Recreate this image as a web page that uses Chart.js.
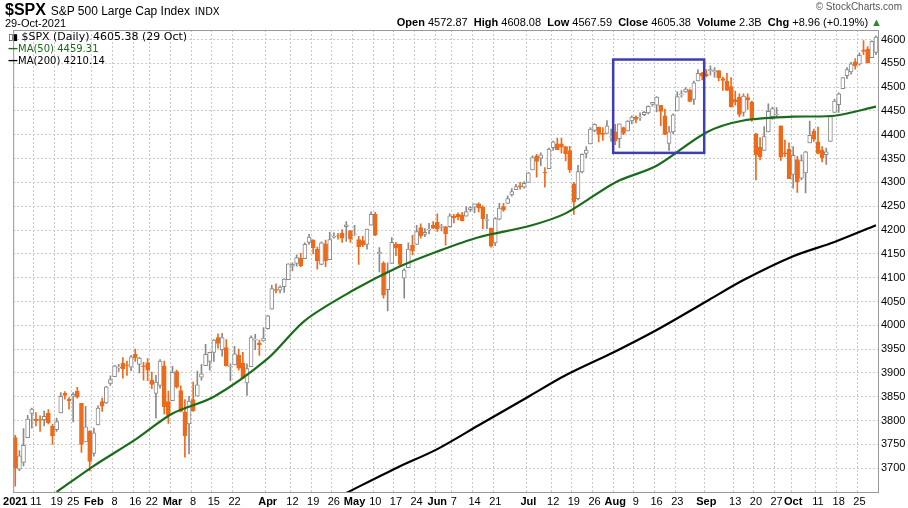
<!DOCTYPE html>
<html><head><meta charset="utf-8">
<script src="https://cdn.jsdelivr.net/npm/chart.js@4"></script>
<style>
body{margin:0;background:#fff;width:908px;height:508px;overflow:hidden;font-family:"DejaVu Sans",Arial,sans-serif;position:relative}
#c{position:absolute;left:0;top:0}
.t{position:absolute;white-space:nowrap;color:#000}
</style></head><body>
<canvas id="c" width="908" height="508"></canvas>
<div class="t" style="left:5px;top:1px;font-size:15px;"><b style="font-family:'Liberation Sans',Arial;font-size:16px">$SPX</b> <span style="font-family:'Liberation Sans';font-size:12px">S&amp;P 500 Large Cap Index</span> <span style="font-size:10px">INDX</span></div>
<div class="t" style="left:5px;top:17px;font-size:11px;font-family:'Liberation Sans'">29-Oct-2021</div>
<div class="t" style="right:26px;top:16px;font-size:11px;font-family:'Liberation Sans'"><b>Open</b> 4572.87 &nbsp;<b>High</b> 4608.08 &nbsp;<b>Low</b> 4567.59 &nbsp;<b>Close</b> 4605.38 &nbsp;<b>Volume</b> 2.3B &nbsp;<b>Chg</b> +8.96 (+0.19%) <span style="color:#2a8a2a">&#9650;</span></div>
<div class="t" style="right:6px;top:1px;font-size:10px;color:#555;font-family:'Liberation Sans'">&copy; StockCharts.com</div>
<div class="t" style="left:8px;top:31px;font-size:11px;line-height:12px;font-family:'DejaVu Sans'">
<div><span style="font-size:9px">&#9647;&#9646;</span> $SPX (Daily) 4605.38 (29 Oct)</div>
<div style="color:#1a6b1a;font-size:10px"><b>&#8212;</b>MA(50) 4459.31</div>
<div style="font-size:10px"><b>&#8212;</b>MA(200) 4210.14</div>
</div>
<script>
const opens=[3764,3698,3712,3764,3815,3803,3802,3802,3815,3788,3781,3816,3857,3845,3851,3862,3836,3755,3778,
3731,3791,3840,3837,3878,3892,3911,3920,3917,3912,3939,3918,3915,3921,3885,3857,3874,3915,3840,
3842,3903,3863,3818,3793,3844,3851,3891,3915,3924,3943,3974,3949,3953,3913,3917,3937,3920,3879,3913,3969,3963,3967,
3993,4034,4075,4074,4081,4096,4124,4130,4141,4140,4174,4179,4160,4128,4171,4138,4185,4188,4193,4207,4199,
4191,4180,4178,4170,4210,4233,4150,4130,4075,4130,4170,4170,4099,4121,4168,4170,4205,4191,4201,4210,
4216,4206,4207,4207,4229,4233,4232,4229,4243,4248,4255,4248,4220,4204,4173,4223,4249,4256,4274,4285,4293,4290,
4300,4326,4356,4351,4321,4329,4373,4381,4381,4375,4367,4297,4266,4322,4361,4381,4409,4416,4403,4403,4395,
4406,4392,4415,4408,4429,4437,4436,4442,4446,4464,4462,4462,4440,4382,4406,4450,4484,4490,4494,4474,4513,4529,
4528,4534,4532,4535,4518,4513,4501,4474,4479,4447,4478,4469,4402,4374,4367,4406,4438,4442,4419,4362,4370,
4317,4348,4309,4320,4383,4407,4385,4368,4358,4386,4447,4463,4497,4524,4532,4553,4548,4578,4580,4562,4573];
const highs=[3769,3737,3783,3811,3826,3817,3810,3820,3823,3792,3805,3859,3861,3848,3859,3870,3836,3830,3779,
3784,3831,3847,3872,3894,3916,3918,3932,3925,3937,3950,3933,3922,3930,3902,3895,3928,3925,3862,
3914,3906,3873,3844,3851,3881,3904,3918,3960,3944,3970,3982,3983,3970,3919,3956,3950,3943,3919,3978,3981,3969,3995,
4021,4084,4087,4083,4098,4129,4131,4148,4151,4173,4191,4180,4164,4175,4179,4195,4194,4193,4201,4218,4199,
4210,4187,4187,4202,4238,4237,4163,4134,4131,4184,4174,4170,4119,4173,4189,4210,4213,4203,4214,4218,
4234,4212,4208,4234,4233,4236,4237,4249,4249,4255,4257,4251,4233,4204,4226,4256,4256,4272,4287,4296,4300,4302,
4321,4356,4359,4362,4331,4372,4387,4393,4393,4376,4376,4300,4336,4360,4375,4415,4423,4416,4415,4430,4412,
4422,4423,4416,4430,4440,4440,4446,4449,4461,4468,4480,4462,4454,4418,4444,4490,4493,4499,4496,4513,4537,4531,
4537,4545,4541,4535,4521,4529,4520,4492,4486,4486,4486,4471,4403,4394,4417,4465,4458,4457,4419,4389,4383,
4375,4355,4358,4365,4429,4412,4416,4375,4372,4439,4475,4488,4520,4541,4552,4560,4572,4598,4585,4597,4608];
const lows=[3662,3695,3705,3764,3784,3789,3777,3789,3793,3750,3777,3816,3845,3824,3797,3847,3733,3755,3694,
3725,3791,3819,3836,3874,3892,3903,3889,3895,3905,3924,3900,3885,3884,3867,3805,3868,3814,3794,
3842,3868,3818,3723,3730,3819,3851,3885,3915,3906,3924,3952,3935,3914,3884,3917,3906,3889,3853,3913,3949,3937,3966,
3992,4034,4068,4068,4069,4096,4114,4124,4123,4140,4170,4150,4118,4127,4123,4138,4183,4181,4174,4176,4174,
4188,4128,4165,4160,4210,4188,4112,4057,4030,4130,4146,4125,4057,4121,4148,4170,4183,4186,4192,4203,
4197,4198,4168,4206,4215,4221,4219,4229,4239,4236,4238,4203,4203,4164,4167,4221,4239,4256,4271,4285,4286,4288,
4301,4326,4311,4335,4290,4329,4367,4369,4362,4345,4321,4233,4263,4320,4352,4381,4406,4385,4388,4403,4386,
4379,4373,4400,4408,4423,4425,4430,4440,4444,4460,4448,4419,4400,4367,4402,4450,4479,4489,4469,4464,4513,4515,
4522,4525,4521,4513,4493,4493,4458,4462,4438,4439,4453,4428,4305,4347,4367,4406,4432,4437,4346,4354,4308,
4288,4279,4305,4278,4383,4386,4360,4343,4338,4386,4447,4447,4497,4518,4527,4538,4546,4568,4551,4562,4568];
const closes=[3700,3726,3748,3803,3824,3799,3801,3809,3795,3768,3798,3851,3853,3841,3855,3849,3750,3787,3714,
3774,3826,3830,3871,3886,3915,3911,3909,3916,3934,3932,3931,3913,3906,3876,3881,3925,3829,3811,
3901,3870,3819,3768,3841,3821,3875,3898,3939,3943,3969,3962,3974,3915,3913,3940,3910,3889,3909,3974,3971,3959,3973,
4020,4077,4073,4080,4097,4129,4128,4142,4125,4170,4185,4163,4135,4173,4135,4180,4187,4187,4183,4211,4181,
4192,4165,4168,4202,4233,4189,4153,4063,4113,4174,4163,4128,4116,4160,4156,4197,4188,4195,4201,4204,
4202,4208,4192,4230,4226,4227,4219,4239,4247,4255,4246,4224,4222,4166,4224,4246,4242,4266,4281,4291,4291,4298,
4320,4352,4344,4358,4320,4370,4385,4369,4374,4360,4327,4259,4323,4359,4368,4412,4422,4401,4401,4419,4395,
4387,4423,4403,4429,4437,4432,4436,4447,4460,4468,4479,4449,4401,4406,4442,4480,4486,4496,4470,4509,4529,4523,
4524,4537,4535,4520,4514,4493,4459,4469,4443,4481,4473,4433,4358,4354,4396,4449,4455,4443,4353,4360,4308,
4357,4301,4346,4364,4399,4391,4361,4351,4364,4438,4471,4486,4520,4537,4549,4545,4567,4575,4551,4596,4605];
const ma50Dates=['2021-01-19','2021-02-01','2021-02-16','2021-03-01','2021-03-15','2021-04-01','2021-04-15','2021-05-03','2021-05-17','2021-06-01','2021-06-15','2021-07-01','2021-07-15','2021-08-02','2021-08-16','2021-09-01','2021-09-15','2021-10-01','2021-10-15','2021-10-29'];
const ma50Vals=[3650,3705,3760,3815,3850,3930,4010,4075,4120,4155,4185,4208,4235,4300,4335,4405,4430,4438,4440,4459];
const ma200Dates=['2021-04-29','2021-05-17','2021-06-01','2021-06-15','2021-07-01','2021-07-15','2021-08-02','2021-08-16','2021-09-01','2021-09-15','2021-10-01','2021-10-15','2021-10-29'];
const ma200Vals=[3648,3700,3740,3790,3850,3895,3945,3990,4050,4095,4145,4175,4210];
const tickLabels={'2021-01-04':'2021','2021-01-11':'11','2021-01-19':'19','2021-01-25':'25','2021-02-01':'Feb','2021-02-08':'8','2021-02-16':'16','2021-02-22':'22','2021-03-01':'Mar','2021-03-08':'8','2021-03-15':'15','2021-03-22':'22','2021-04-01':'Apr','2021-04-12':'12','2021-04-19':'19','2021-04-26':'26','2021-05-03':'May','2021-05-10':'10','2021-05-17':'17','2021-05-24':'24','2021-06-01':'Jun','2021-06-07':'7','2021-06-14':'14','2021-06-21':'21','2021-07-01':'Jul','2021-07-12':'12','2021-07-19':'19','2021-07-26':'26','2021-08-02':'Aug','2021-08-09':'9','2021-08-16':'16','2021-08-23':'23','2021-09-01':'Sep','2021-09-13':'13','2021-09-20':'20','2021-09-27':'27','2021-10-01':'Oct','2021-10-11':'11','2021-10-18':'18','2021-10-25':'25'};
const boxRange={from:'2021-07-30',to:'2021-09-01',low:4362,high:4558};

const holidays=['2021-01-18','2021-02-15','2021-04-02','2021-05-31','2021-07-05','2021-09-06'];
const dates=[];
for(let d=new Date(Date.UTC(2021,0,4));d<=new Date(Date.UTC(2021,9,29));d.setUTCDate(d.getUTCDate()+1)){
  const wd=d.getUTCDay(); const s=d.toISOString().slice(0,10);
  if(wd>0&&wd<6&&!holidays.includes(s)) dates.push(s);
}
const ORANGE='#ee6a1a';
const up=i=>closes[i]>=opens[i];
const wick=dates.map((d,i)=>[lows[i],highs[i]]);
const body=dates.map((d,i)=>{let a=opens[i],b=closes[i];if(Math.abs(a-b)<1)b=a+1;return [a,b];});

const frame={id:'frame',afterDraw(c){const {ctx,chartArea:a,scales:{x,y}}=c;
  ctx.save();ctx.setLineDash([]);ctx.strokeStyle='#999';ctx.lineWidth=1;ctx.strokeRect(a.left+.5,a.top+.5,a.width,a.height);
  const x0=(x.getPixelForValue(dates.indexOf(boxRange.from))+x.getPixelForValue(dates.indexOf(boxRange.from)+1))/2;
  const x1=(x.getPixelForValue(dates.indexOf(boxRange.to))+x.getPixelForValue(dates.indexOf(boxRange.to)-1))/2;
  ctx.strokeStyle='#3b3fb0';ctx.lineWidth=2.5;
  ctx.strokeRect(x0,y.getPixelForValue(boxRange.high),x1-x0,y.getPixelForValue(boxRange.low)-y.getPixelForValue(boxRange.high));
  ctx.restore();}};

new Chart(document.getElementById('c'),{
  data:{labels:dates,datasets:[
    {type:'line',data:ma200Dates.map((d,i)=>({x:d,y:ma200Vals[i]})),borderColor:'#000',borderWidth:2.2,pointRadius:0,tension:0.3,order:0},
    {type:'line',data:ma50Dates.map((d,i)=>({x:d,y:ma50Vals[i]})),borderColor:'#1a6b1a',borderWidth:2.2,pointRadius:0,tension:0.3,order:0},
    {type:'bar',data:body,grouped:false,barThickness:4,backgroundColor:dates.map((d,i)=>up(i)?'#fff':ORANGE),borderColor:dates.map((d,i)=>up(i)?'#8a8a8a':ORANGE),borderWidth:1,borderSkipped:false,order:1},
    {type:'bar',data:wick,grouped:false,barThickness:1,backgroundColor:dates.map((d,i)=>up(i)?'#8a8a8a':ORANGE),order:2}
  ]},
  options:{responsive:false,animation:false,
    layout:{padding:{left:5,top:30,right:0,bottom:0}},
    plugins:{legend:{display:false},tooltip:{enabled:false}},
    scales:{
      x:{type:'category',offset:true,border:{display:false,dash:[2,2]},
        grid:{color:c=>tickLabels[dates[c.index]]!==undefined?'#c8c8c8':'rgba(0,0,0,0)',drawTicks:false},
        afterFit:s=>{s.height=16},
        ticks:{autoSkip:false,maxRotation:0,padding:3,color:'#000',
          callback:(v,i)=>tickLabels[dates[i]]||'',
          font:c=>{const l=tickLabels[dates[c.index]]||'';return {family:'Liberation Sans',size:11,weight:(isNaN(+l)||l==='2021')?'bold':'normal'};}}},
      y:{position:'right',min:3650,max:4620,border:{display:false,dash:[2,2]},afterFit:s=>{s.width=30},
        grid:{color:c=>(c.tick&&c.tick.value%50===0)?'#c8c8c8':'rgba(0,0,0,0)',drawTicks:false},
        afterBuildTicks:s=>{const t=[];for(let v=3650;v<=4600;v+=50)t.push({value:v});s.ticks=t;},
        ticks:{padding:3,color:'#000',font:{family:'Liberation Sans',size:11},
          callback:v=>v>=3700?v:''}}
    }},
  plugins:[frame]
});
</script>
</body></html>
